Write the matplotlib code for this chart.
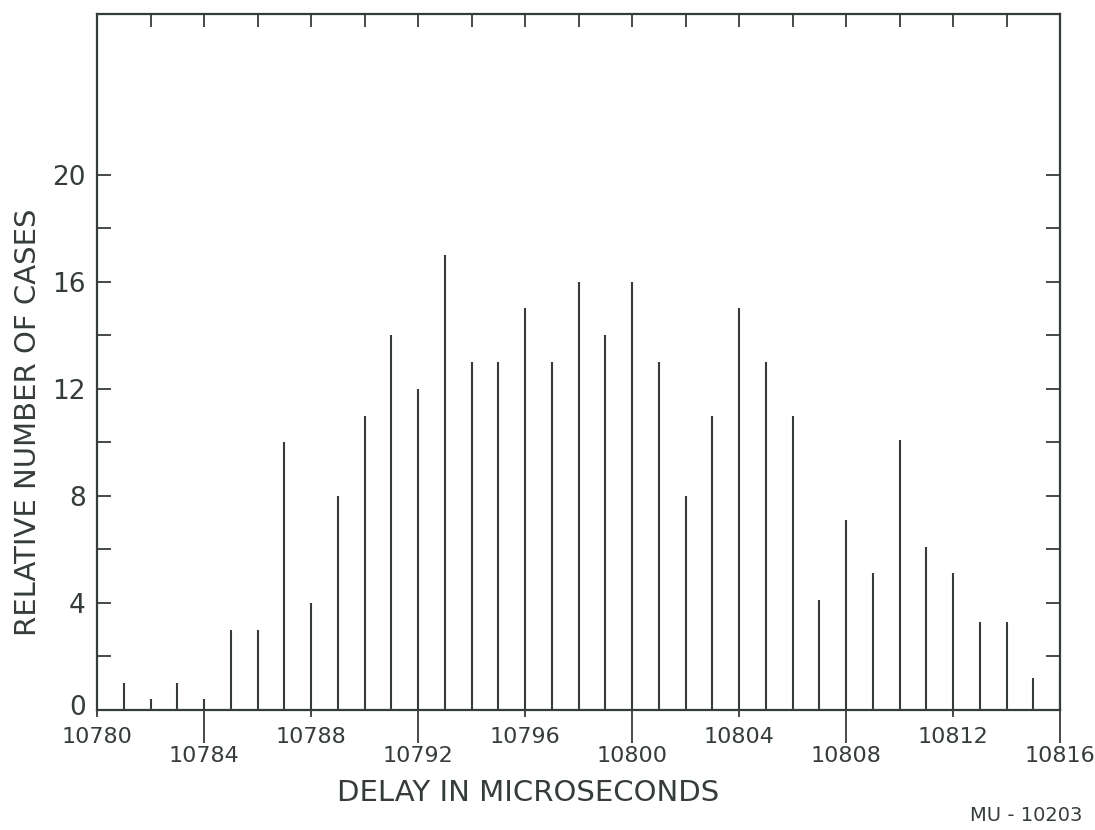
import matplotlib
matplotlib.use("Agg")
import matplotlib.pyplot as plt
import matplotlib.transforms as mtransforms
import numpy as np

delays = list(range(10781, 10817))
counts = [1.0, 0.4, 1.0, 0.4, 3.0, 3.0, 10.0, 4.0, 8.0, 11.0, 14.0, 12.0,
          17.0, 13.0, 13.0, 15.0, 13.0, 16.0, 14.0, 16.0, 13.0, 8.0, 11.0, 15.0,
          13.0, 11.0, 4.1, 7.1, 5.1, 10.1, 6.1, 5.1, 3.3, 3.3, 1.2, 1.3]

x_high_ticks = [10780, 10788, 10796, 10804, 10812]
x_low_ticks = [10784, 10792, 10800, 10808, 10816]
y_label_ticks = [0, 4, 8, 12, 16, 20]
y_minor_ticks = [2, 6, 10, 14, 18]
top_ticks = list(range(10782, 10816, 2))
right_ticks = list(range(2, 21, 2))

ink = "#363d39"
plt.rcParams['font.family'] = ['DejaVu Sans']

fig = plt.figure(figsize=(10.95, 8.3), dpi=100)
ax = fig.add_axes([97/1095, 1-710/830, (1060-97)/1095, (710-14)/830])

ax.vlines(delays, 0, counts, color=ink, linewidth=1.5)
ax.set_xlim(10780, 10816)
ax.set_ylim(0, 26)

for s in ax.spines.values():
    s.set_color(ink)
    s.set_linewidth(1.6)

# x ticks
ax.set_xticks(x_high_ticks)
ax.set_xticklabels([str(v) for v in x_high_ticks])
ax.set_xticks(x_low_ticks, minor=True)
ax.set_xticklabels([str(v) for v in x_low_ticks], minor=True)
ax.tick_params(axis='x', which='major', direction='inout', length=10, width=1.3,
               color=ink, labelsize=16, labelcolor=ink, pad=7)
ax.tick_params(axis='x', which='minor', direction='out', length=24, width=1.3,
               color=ink, labelsize=16, labelcolor=ink, pad=2)

# y ticks
ax.set_yticks(y_label_ticks)
ax.set_yticklabels([str(v) for v in y_label_ticks])
ax.set_yticks(y_minor_ticks, minor=True)
ax.tick_params(axis='y', which='both', direction='in', length=10, width=1.3,
               color=ink, labelsize=19, labelcolor=ink, pad=8)
zero_lbl = ax.get_yticklabels()[0]
zero_lbl.set_transform(zero_lbl.get_transform() +
                       mtransforms.ScaledTranslation(0, 0.05, fig.dpi_scale_trans))

# top ticks
axt = ax.twiny()
axt.set_xlim(ax.get_xlim())
axt.set_xticks(top_ticks)
axt.set_xticklabels([])
axt.tick_params(axis='x', direction='in', length=9, width=1.3, color=ink)
for s in axt.spines.values():
    s.set_visible(False)

# right ticks
axr = ax.twinx()
axr.set_ylim(ax.get_ylim())
axr.set_yticks(right_ticks)
axr.set_yticklabels([])
axr.tick_params(axis='y', direction='in', length=10, width=1.3, color=ink)
for s in axr.spines.values():
    s.set_visible(False)

fig.text(528/1095, 1-793/830, "DELAY IN MICROSECONDS", ha='center', va='center',
         fontsize=21, color=ink)
fig.text(28/1095, 1-422/830, "RELATIVE NUMBER OF CASES", ha='center', va='center',
         rotation=90, fontsize=21, color=ink)
fig.text(1026/1095, 1-815/830, "MU - 10203", ha='center', va='center',
         fontsize=14, color=ink)

fig.savefig("out.png", dpi=100, facecolor='white')
